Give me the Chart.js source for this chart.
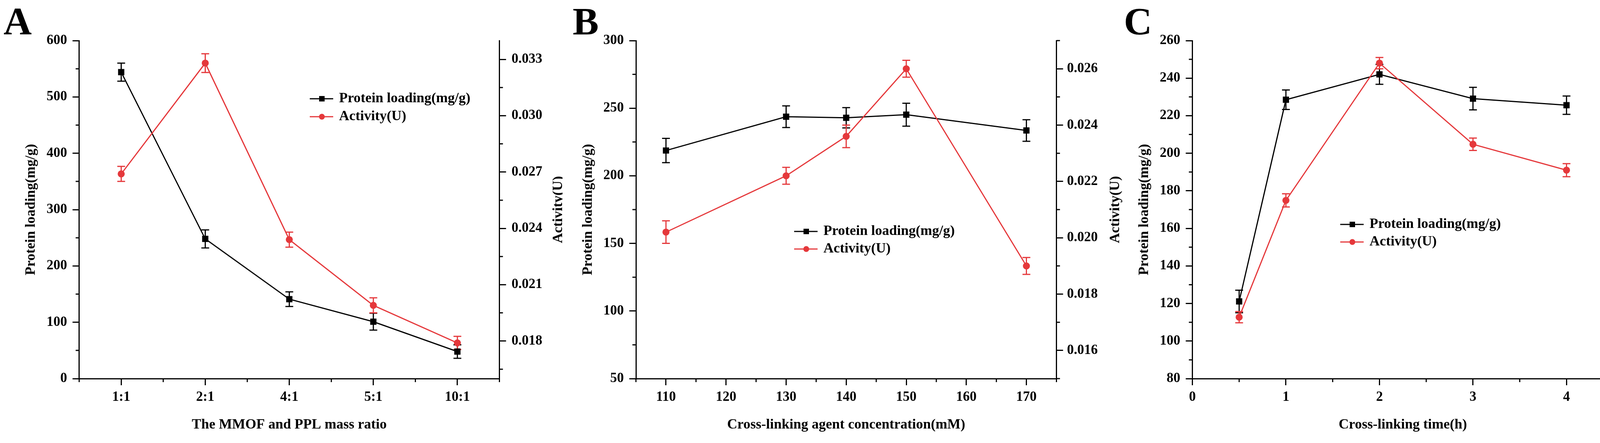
<!DOCTYPE html>
<html><head><meta charset="utf-8">
<script src="https://cdn.jsdelivr.net/npm/chart.js@4.4.1/dist/chart.umd.min.js"></script>
<style>
html,body{margin:0;padding:0;background:#fff;}
#wrap{position:relative;width:4326px;height:1135px;overflow:hidden;background:#fff;}
canvas{position:absolute;top:0;}
.lab{position:absolute;top:5px;font-family:"Liberation Serif","Times New Roman",serif;font-weight:bold;font-size:100px;line-height:100px;color:#000;}
</style></head><body>
<div id="wrap">
<canvas id="cA" width="1440" height="1135" style="left:0px"></canvas>
<canvas id="cB" width="1440" height="1135" style="left:1440px"></canvas>
<canvas id="cC" width="1446" height="1135" style="left:2880px"></canvas>
<div class="lab" style="left:9px">A</div>
<div class="lab" style="left:1466px">B</div>
<div class="lab" style="left:2877px">C</div>
</div>
<script>
// ---------- data ----------
const seriesNames = ['Protein loading(mg/g)', 'Activity(U)'];

const ratioA = ['1:1', '2:1', '4:1', '5:1', '10:1'];
const proteinA = [544, 248, 141, 101, 48];
const proteinErrA = [16, 16, 13, 15, 12];
const activityA = [0.0269, 0.0328, 0.0234, 0.0199, 0.0179];
const activityErrA = [0.0004, 0.0005, 0.0004, 0.0004, 0.00035];

const concB = [110, 130, 140, 150, 170];
const proteinB = [218.7, 243.7, 242.9, 245.2, 233.5];
const proteinErrB = [9, 8, 7.5, 8.5, 8];
const activityB = [0.0202, 0.0222, 0.0236, 0.0260, 0.0190];
const activityErrB = [0.0004, 0.0003, 0.0004, 0.0003, 0.0003];

const timeC = [0.5, 1, 2, 3, 4];
const proteinC = [121.1, 228.5, 242.0, 229.1, 225.6];
const proteinErrC = [6, 5.2, 5.3, 6, 4.9];
const activityC = [0.01427, 0.02049, 0.0278, 0.02348, 0.0221];
const activityErrC = [0.0003, 0.00035, 0.0003, 0.00033, 0.00035];

// tick labels
const yTicksA = [0, 100, 200, 300, 400, 500, 600];
const y2TicksA = [0.018, 0.021, 0.024, 0.027, 0.030, 0.033];
const xTicksB = [110, 120, 130, 140, 150, 160, 170];
const yTicksB = [50, 100, 150, 200, 250, 300];
const y2TicksB = [0.016, 0.018, 0.020, 0.022, 0.024, 0.026];
const xTicksC = [0, 1, 2, 3, 4];
const yTicksC = [80, 100, 120, 140, 160, 180, 200, 220, 240, 260];
const y2TicksC = [0.012, 0.015, 0.018, 0.021, 0.024, 0.027];

// ---------- style ----------
const FONT = '"Liberation Serif", "Times New Roman", serif';
const RED = '#E5383B';
const BLACK = '#000000';
Chart.defaults.color = '#000';
Chart.defaults.font.family = FONT;

function minorsOf(majors, min, max) {
  const step = majors[1] - majors[0];
  const out = [];
  const eps = step * 1e-6;
  for (let v = majors[0] - step / 2; v <= max + eps; v += step) {
    if (v >= min - eps) out.push(v);
  }
  return out;
}

const decor = {
  id: 'decor',
  beforeDatasetsDraw(chart) {
    const ctx = chart.ctx;
    chart.data.datasets.forEach((ds, di) => {
      const meta = chart.getDatasetMeta(di);
      const ys = chart.scales[ds.yAxisID];
      ctx.save();
      ctx.strokeStyle = ds.borderColor;
      ctx.lineWidth = 3;
      meta.data.forEach((pt, i) => {
        const d = ds.data[i];
        const v = (typeof d === 'object') ? d.y : d;
        const e = ds.errors[i];
        const yt = ys.getPixelForValue(v + e);
        const yb = ys.getPixelForValue(v - e);
        ctx.beginPath();
        ctx.moveTo(pt.x, yt); ctx.lineTo(pt.x, yb);
        ctx.moveTo(pt.x - 10, yt); ctx.lineTo(pt.x + 10, yt);
        ctx.moveTo(pt.x - 10, yb); ctx.lineTo(pt.x + 10, yb);
        ctx.stroke();
      });
      ctx.restore();
    });
  },
  afterDraw(chart, args, opts) {
    const ctx = chart.ctx;
    const ca = chart.chartArea;
    ctx.save();
    ctx.strokeStyle = '#000';
    ctx.lineWidth = 3;
    ctx.lineCap = 'butt';
    const ML = 9;
    // minor ticks
    ctx.beginPath();
    opts.minorX.forEach(v => {
      const px = chart.scales.x.getPixelForValue(v);
      ctx.moveTo(px, ca.bottom); ctx.lineTo(px, ca.bottom + ML);
    });
    opts.minorY.forEach(v => {
      const py = chart.scales.y.getPixelForValue(v);
      ctx.moveTo(ca.left - ML, py); ctx.lineTo(ca.left, py);
    });
    opts.minorY2.forEach(v => {
      const py = chart.scales.y2.getPixelForValue(v);
      ctx.moveTo(ca.right, py); ctx.lineTo(ca.right + ML, py);
    });
    ctx.stroke();
    // right axis title
    ctx.fillStyle = '#000';
    ctx.font = 'bold 36px ' + FONT;
    ctx.textAlign = 'center';
    ctx.textBaseline = 'middle';
    ctx.save();
    ctx.translate(ca.right + 151, (ca.top + ca.bottom) / 2);
    ctx.rotate(-Math.PI / 2);
    ctx.fillText(seriesNames[1], 0, 0);
    ctx.restore();
    // legend
    const L = opts.legend;
    chart.data.datasets.forEach((ds, i) => {
      const y = L.y + i * L.gap;
      ctx.strokeStyle = ds.borderColor;
      ctx.fillStyle = ds.borderColor;
      ctx.lineWidth = 3;
      ctx.beginPath();
      ctx.moveTo(L.x, y); ctx.lineTo(L.x + 60, y);
      ctx.stroke();
      const cx = L.x + 31;
      if (ds.pointStyle === 'rect') {
        ctx.fillRect(cx - 7, y - 7, 14, 14);
      } else {
        ctx.beginPath(); ctx.arc(cx, y, 7.5, 0, Math.PI * 2); ctx.fill();
      }
      ctx.fillStyle = '#000';
      ctx.textAlign = 'left';
      ctx.textBaseline = 'middle';
      ctx.fillText(ds.label, L.x + 75, y);
    });
    ctx.restore();
  }
};

const tickFont = { family: FONT, size: 35, weight: 'bold' };
const titleFont = { family: FONT, size: 36, weight: 'bold' };
const gridOpts = { display: true, drawOnChartArea: false, drawTicks: true, tickLength: 17, lineWidth: 3, color: '#000' };
const borderOpts = { display: true, width: 3, color: '#000' };

function setTicks(arr) { return s => { s.ticks = arr.map(v => ({ value: v })); }; }

function buildPanel(id, p) {
  return new Chart(document.getElementById(id), {
    type: 'line',
    data: {
      labels: p.labels,
      datasets: [
        { label: seriesNames[0], data: p.protein, errors: p.proteinErr, yAxisID: 'y',
          borderColor: BLACK, backgroundColor: BLACK, pointStyle: 'rect', pointRadius: 11.3,
          pointBorderWidth: 0, borderWidth: 3, order: 1, tension: 0 },
        { label: seriesNames[1], data: p.activity, errors: p.activityErr, yAxisID: 'y2',
          borderColor: RED, backgroundColor: RED, pointStyle: 'circle', pointRadius: 9,
          pointBorderWidth: 0, borderWidth: 3, order: 0, tension: 0 }
      ]
    },
    options: {
      responsive: false, animation: false, devicePixelRatio: 1,
      layout: { padding: { top: 104, left: 0, right: 0, bottom: 0 } },
      plugins: {
        legend: { display: false }, tooltip: { enabled: false },
        decor: { minorX: p.minorX, minorY: p.minorY, minorY2: p.minorY2, legend: p.legend }
      },
      scales: {
        x: Object.assign({
          grid: gridOpts, border: borderOpts,
          ticks: { font: tickFont, color: '#000', padding: 10, autoSkip: false, maxRotation: 0 },
          title: { display: true, text: p.xTitle, font: titleFont, color: '#000', padding: { top: 0, bottom: 25 } },
          afterFit: s => { s.height = 165; }
        }, p.xScale),
        y: {
          position: 'left', min: p.yMin, max: p.yMax,
          afterBuildTicks: setTicks(p.yTicks),
          grid: gridOpts, border: borderOpts,
          ticks: { font: tickFont, color: '#000', padding: 14, autoSkip: false, callback: v => String(v) },
          title: { display: true, text: seriesNames[0], font: titleFont, color: '#000', padding: { top: p.yTitlePad, bottom: 0 } },
          afterFit: s => { s.width = p.leftW; }
        },
        y2: {
          position: 'right', min: p.y2Min, max: p.y2Max,
          afterBuildTicks: setTicks(p.y2Ticks),
          grid: gridOpts, border: borderOpts,
          ticks: { font: tickFont, color: '#000', padding: p.y2Pad, autoSkip: false, callback: v => v.toFixed(3) },
          afterFit: s => { s.width = p.rightW; }
        }
      }
    },
    plugins: [decor]
  });
}

function pts(xs, ys) { return xs.map((x, i) => ({ x: x, y: ys[i] })); }

// Panel A
buildPanel('cA', {
  labels: ratioA, protein: proteinA, proteinErr: proteinErrA, activity: activityA, activityErr: activityErrA,
  xTitle: 'The MMOF and PPL mass ratio',
  xScale: { type: 'category', offset: true },
  yMin: 0, yMax: 600, yTicks: yTicksA, y2Min: 0.016, y2Max: 0.034, y2Ticks: y2TicksA,
  minorX: minorsOf([0, 1, 2, 3, 4], -0.5, 4.5),
  minorY: minorsOf(yTicksA, 0, 600), minorY2: minorsOf(y2TicksA, 0.016, 0.034),
  leftW: 202.7, rightW: 161.5, yTitlePad: 58.6, y2Pad: 14,
  legend: { x: 793, y: 253, gap: 46 }
});

// Panel B
buildPanel('cB', {
  labels: undefined, protein: pts(concB, proteinB), proteinErr: proteinErrB, activity: pts(concB, activityB), activityErr: activityErrB,
  xTitle: 'Cross-linking agent concentration(mM)',
  xScale: { type: 'linear', min: 105, max: 175, afterBuildTicks: setTicks(xTicksB) },
  yMin: 50, yMax: 300, yTicks: yTicksB, y2Min: 0.015, y2Max: 0.027, y2Ticks: y2TicksB,
  minorX: minorsOf(xTicksB, 105, 175),
  minorY: minorsOf(yTicksB, 50, 300), minorY2: minorsOf(y2TicksB, 0.015, 0.027),
  leftW: 188, rightW: 175.5, yTitlePad: 43.9, y2Pad: 10,
  legend: { x: 593, y: 593, gap: 45 }
});

// Panel C
buildPanel('cC', {
  labels: undefined, protein: pts(timeC, proteinC), proteinErr: proteinErrC, activity: pts(timeC, activityC), activityErr: activityErrC,
  xTitle: 'Cross-linking time(h)',
  xScale: { type: 'linear', min: 0, max: 4.5, afterBuildTicks: setTicks(xTicksC) },
  yMin: 80, yMax: 260, yTicks: yTicksC, y2Min: 0.011, y2Max: 0.029, y2Ticks: y2TicksC,
  minorX: minorsOf(xTicksC, 0, 4.5),
  minorY: minorsOf(yTicksC, 80, 260), minorY2: minorsOf(y2TicksC, 0.011, 0.029),
  leftW: 172.5, rightW: 196, yTitlePad: 28.4, y2Pad: 13,
  legend: { x: 551, y: 575, gap: 45 }
});
</script>
</body></html>
